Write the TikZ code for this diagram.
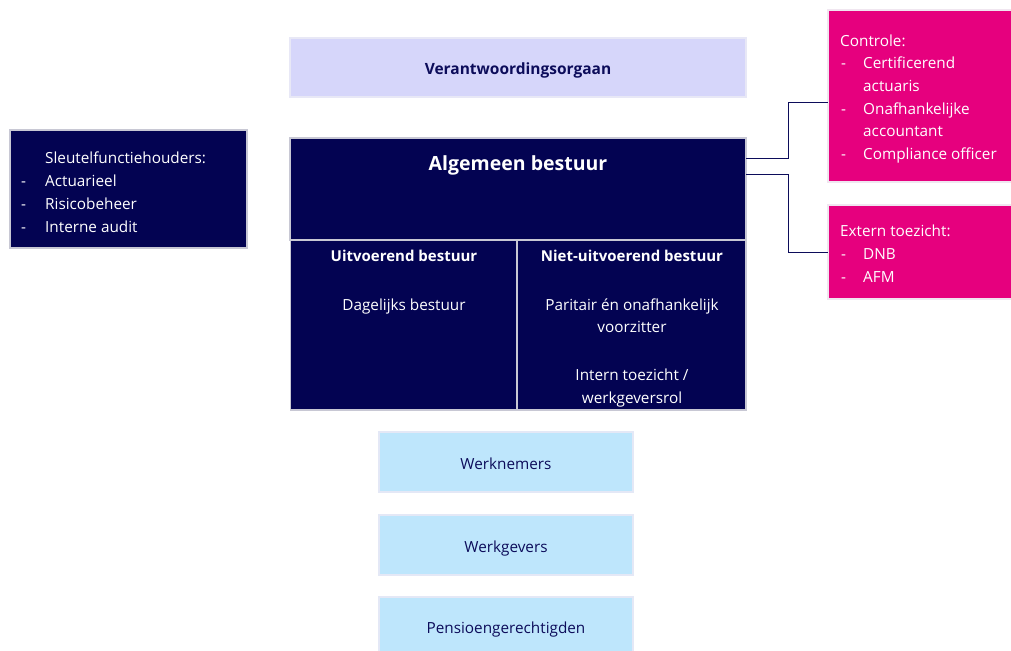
\documentclass[tikz,border=0pt]{standalone}
\usepackage{fontspec}
\setmainfont{Open Sans}
\definecolor{navy}{RGB}{3,3,82}
\definecolor{navytext}{RGB}{12,12,90}
\definecolor{lav}{RGB}{214,214,250}
\definecolor{lavedge}{RGB}{232,232,246}
\definecolor{sky}{RGB}{190,230,252}
\definecolor{skyedge}{RGB}{228,232,246}
\definecolor{magen}{RGB}{230,0,126}
\definecolor{magedge}{RGB}{240,230,240}
\definecolor{grayedge}{RGB}{200,200,212}
\begin{document}
\begin{tikzpicture}[x=1pt,y=-1pt,
  box/.style={line width=1.5pt, inner sep=0pt, outer sep=0pt, minimum width=#1},
  navybox/.style={box=#1, draw=grayedge, fill=navy},
  lavbox/.style={box=#1, draw=lavedge, fill=lav},
  skybox/.style={box=#1, draw=skyedge, fill=sky},
  magbox/.style={box=#1, draw=magedge, fill=magen},
  wt/.style={text=white, inner sep=0pt, anchor=base, font=\fontsize{15.3}{18}\selectfont},
  wtl/.style={wt, anchor=base west},
  wtb/.style={wt, font=\bfseries\fontsize{15}{18}\selectfont},
  dt/.style={text=navytext, inner sep=0pt, anchor=base, font=\fontsize{15.3}{18}\selectfont},
  conn/.style={draw=navytext, line width=1pt}
]
\clip (0,0) rectangle (1011,650);
\fill[white] (0,0) rectangle (1011,650);

% Verantwoordingsorgaan
\node[lavbox=456pt, minimum height=59pt] (vo) at (518,67.5) {};
\node[dt, font=\bfseries\fontsize{15.5}{18}\selectfont] (vot) at (518,75) {Verantwoordingsorgaan};

% Sleutelfunctiehouders
\node[navybox=237pt, minimum height=118pt] (sf) at (128.5,189) {};
\node[wtl] (sf0) at (45,163) {Sleutelfunctiehouders:};
\node[wtl] (sfd1) at (21,186) {-};
\node[wtl] (sf1) at (45,186) {Actuarieel};
\node[wtl] (sfd2) at (21,209) {-};
\node[wtl] (sf2) at (45,209) {Risicobeheer};
\node[wtl] (sfd3) at (21,232) {-};
\node[wtl] (sf3) at (45,232) {Interne audit};

% Algemeen bestuur
\node[navybox=456pt, minimum height=102pt] (ab) at (518,189) {};
\node[navybox=227pt, minimum height=170pt] (ub) at (404,325) {};
\node[navybox=229pt, minimum height=170pt] (nb) at (631.5,325) {};
\node[wt, font=\bfseries\fontsize{19.5}{22}\selectfont] (abt) at (518,170) {Algemeen bestuur};
\node[wtb] (ubt) at (404,261) {Uitvoerend bestuur};
\node[wt] (ub1) at (404,310) {Dagelijks bestuur};
\node[wtb] (nbt) at (632,261) {Niet-uitvoerend bestuur};
\node[wt] (nb1) at (632,310) {Paritair én onafhankelijk};
\node[wt] (nb2) at (632,332) {voorzitter};
\node[wt] (nb3) at (632,380) {Intern toezicht /};
\node[wt] (nb4) at (632,403) {werkgeversrol};

% Controle
\node[magbox=190pt, minimum height=172pt, anchor=north west] (ctrl) at (828,10) {};
\node[wtl] (c0) at (840,47) {Controle:};
\node[wtl] (cd1) at (841,69) {-};
\node[wtl] (c1) at (863,69) {Certificerend};
\node[wtl] (c1b) at (863,92) {actuaris};
\node[wtl] (cd2) at (841,114) {-};
\node[wtl] (c2) at (863,114) {Onafhankelijke};
\node[wtl] (c2b) at (863,136) {accountant};
\node[wtl] (cd3) at (841,159) {-};
\node[wtl] (c3) at (863,159) {Compliance officer};

% Extern toezicht
\node[magbox=190pt, minimum height=94pt, anchor=north west] (ext) at (828,205) {};
\node[wtl] (e0) at (840,236) {Extern toezicht:};
\node[wtl] (ed1) at (841,259) {-};
\node[wtl] (e1) at (863,259) {DNB};
\node[wtl] (ed2) at (841,282) {-};
\node[wtl] (e2) at (863,282) {AFM};

% connectors
\draw[conn] ([yshift=-20pt]ab.north east) -- ++(42,0) |- ([yshift=-7pt]ctrl.west);
\draw[conn] ([yshift=-36pt]ab.north east) -- ++(42,0) |- (ext.west);

% Bottom boxes
\node[skybox=254pt, minimum height=60pt] (wn) at (506,462) {};
\node[dt] (wnt) at (506,469) {Werknemers};
\node[skybox=254pt, minimum height=60pt] (wg) at (506,545) {};
\node[dt] (wgt) at (506,552) {Werkgevers};
\node[skybox=254pt, minimum height=60pt, anchor=north] (pg) at (506,597) {};
\node[dt] (pgt) at (506,633) {Pensioengerechtigden};
\end{tikzpicture}
\end{document}
